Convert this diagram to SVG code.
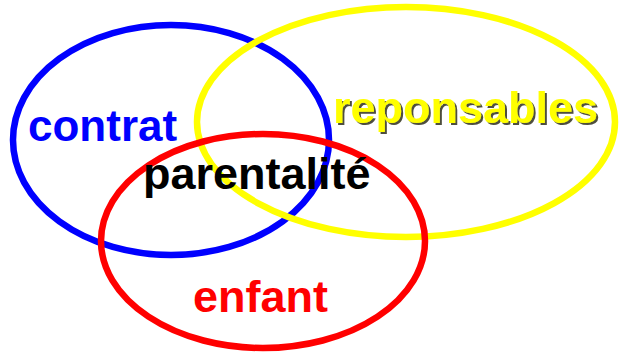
<svg xmlns="http://www.w3.org/2000/svg" width="622" height="355" viewBox="0 0 622 355">
  <style>
    .ring { fill: none; stroke-width: 6.5; }
    .label { font-family: "Liberation Sans", Arial, sans-serif; font-weight: bold; font-size: 45px; }
  </style>
  <defs>
    <filter id="shadow" x="-10%" y="-20%" width="120%" height="140%">
      <feDropShadow dx="2" dy="2" stdDeviation="0.6" flood-color="#3a3a2a" flood-opacity="0.9"/>
    </filter>
  </defs>
  <rect width="622" height="355" fill="#ffffff"/>

  <g id="contrat">
    <ellipse class="ring" cx="171" cy="140" rx="158" ry="115" stroke="#0000ff"/>
  </g>
  <g id="reponsables">
    <ellipse class="ring" cx="406" cy="122" rx="209" ry="115" stroke="#ffff00"/>
  </g>
  <g id="enfant">
    <ellipse class="ring" cx="263" cy="241" rx="162" ry="107" stroke="#ff0000"/>
  </g>

  <g id="labels">
    <text class="label" x="28" y="141" fill="#0000ff" style="font-size:44px">contrat</text>
    <text class="label" x="333" y="123" fill="#ffff00" filter="url(#shadow)">reponsables</text>
    <text class="label" x="143" y="189" fill="#000000">parentalité</text>
    <text class="label" x="193" y="312" fill="#ff0000">enfant</text>
  </g>
</svg>
